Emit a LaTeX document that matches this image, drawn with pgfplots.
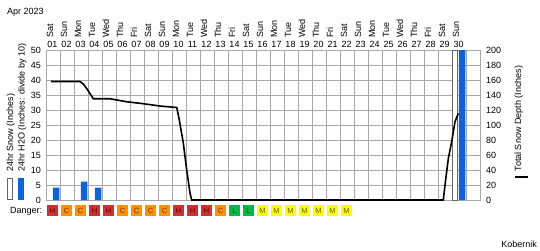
\documentclass[border=0pt]{standalone}
\usepackage{pgfplots}
\pgfplotsset{compat=1.18}
\usepackage{fontspec}
\setmainfont{Liberation Sans}
\definecolor{gridgray}{RGB}{168,168,168}
\definecolor{barblue}{RGB}{10,100,220}
\definecolor{dzH}{RGB}{204,50,48}\definecolor{dtH}{RGB}{100,0,0}
\definecolor{dzC}{RGB}{255,145,0}\definecolor{dtC}{RGB}{100,50,0}
\definecolor{dzL}{RGB}{0,185,70}\definecolor{dtL}{RGB}{0,60,0}
\definecolor{dzM}{RGB}{255,255,0}\definecolor{dtM}{RGB}{100,100,0}
\newcommand\lab{\fontsize{9}{10}\selectfont}
\begin{document}
\begin{tikzpicture}[x=1pt,y=1pt]
\path[use as bounding box] (0,0) rectangle (540,250);
\begin{axis}[
  at={(46pt,50pt)}, anchor=south west,
  scale only axis, width=434pt, height=150pt,
  xmin=0.5, xmax=31.5, ymin=0, ymax=50,
  xtick={0.5,1.5,...,31.5},
  xticklabels={},
  ytick={0,5,...,50},
  grid=major, major grid style={color=gridgray, line width=1pt},
  axis line style={color=gridgray, line width=1pt},
  major tick length=0pt,
  /pgf/number format/assume math mode=true,
  ticklabel style={font=\lab},
  yticklabel style={inner sep=0pt, xshift=-5pt},
  clip mode=individual,
]
\addplot[ybar, bar width=6.5pt, bar shift=3.2pt, fill=barblue, draw=none]
  coordinates {(1,4.1) (3,6.1) (4,4.1) (30,50)};
\addplot[ybar, bar width=5.6pt, bar shift=-4pt, fill=white, draw=black!60, line width=0.8pt]
  coordinates {(30,50)};
\end{axis}
\begin{axis}[
  at={(46pt,50pt)}, anchor=south west,
  scale only axis, width=434pt, height=150pt,
  xmin=0.5, xmax=31.5, ymin=0, ymax=200,
  axis y line*=right, hide x axis,
  ytick={0,20,...,200},
  axis line style={color=gridgray, line width=1pt},
  major tick length=0pt,
  /pgf/number format/assume math mode=true,
  ticklabel style={font=\lab},
  yticklabel style={anchor=west, inner sep=0pt, xshift=6pt},
]
\addplot[black, line width=1.6pt, mark=none, line join=miter] coordinates {
  (0.857,158) (2.93,158) (3.2,154) (3.5,146) (3.88,135) (5.07,135)
  (6.26,131) (7.45,128.4) (8.64,125.3) (9.84,123.3) (10.02,106.8)
  (10.31,75.6) (10.55,40) (10.79,8.8) (10.91,0) (28.88,0) (29.0,20)
  (29.24,55.6) (29.48,78) (29.71,104) (29.95,115.6)};
\end{axis}
% header
\node[anchor=base west, inner sep=0pt, font=\lab] at (7,235.5) {Apr 2023};
\foreach \w [count=\d] in {Sat,Sun,Mon,Tue,Wed,Thu,Fri,Sat,Sun,Mon,Tue,Wed,Thu,Fri,Sat,Sun,Mon,Tue,Wed,Thu,Fri,Sat,Sun,Mon,Tue,Wed,Thu,Fri,Sat,Sun} {
  \node[rotate=90, anchor=base west, inner sep=0pt, font=\lab] at ({39+14*\d},212) {\w};
  \node[anchor=base, inner sep=0pt, font=\lab] at ({38.5+14*\d},202.5) {\ifnum\d<10 0\fi\d};
}
% left labels and legend boxes
\node[rotate=90, anchor=base west, inner sep=0pt, font=\lab] at (13,78) {24hr Snow (Inches)};
\node[rotate=90, anchor=base west, inner sep=0pt, font=\lab] at (24.5,78) {24hr H2O (Inches: divide by 10)};
\draw[draw=black!60, fill=white, line width=0.8pt] (7.4,50.4) rectangle (12.6,71.6);
\fill[barblue] (18,50) rectangle (24,72);
% right label and legend line
\node[rotate=90, anchor=base west, inner sep=0pt, font=\lab] at (521,78.3) {Total Snow Depth (Inches)};
\draw[line width=1.6pt] (515,73.3) -- (528,73.3);
% danger row
\node[anchor=base west, inner sep=0pt, font=\lab] at (10,36.5) {Danger:};
\foreach \c [count=\d] in {H,C,C,H,H,C,C,C,C,H,H,H,C,L,L,M,M,M,M,M,M,M} {
  \node[fill=dz\c, minimum size=11pt, inner sep=0pt, text=dt\c, font=\fontsize{7.5}{8}\selectfont] at ({38.5+14*\d},39.5) {\c};
}
\node[anchor=base east, inner sep=0pt, font=\lab] at (537,3) {Kobernik};
\end{tikzpicture}
\end{document}
